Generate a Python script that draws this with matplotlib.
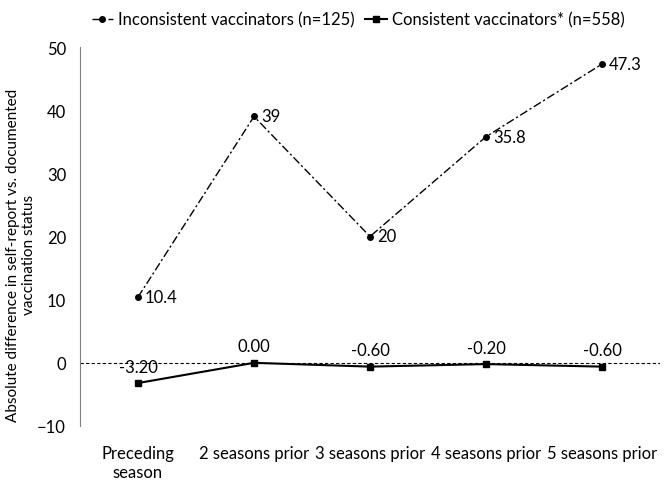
import matplotlib
matplotlib.use("Agg")
import matplotlib.pyplot as plt

categories = ["Preceding\nseason", "2 seasons prior", "3 seasons prior", "4 seasons prior", "5 seasons prior"]
inconsistent = [10.4, 39, 20, 35.8, 47.3]
inconsistent_labels = ["10.4", "39", "20", "35.8", "47.3"]
consistent = [-3.20, 0.00, -0.60, -0.20, -0.60]
consistent_labels = ["-3.20", "0.00", "-0.60", "-0.20", "-0.60"]
yticks = [-10, 0, 10, 20, 30, 40, 50]

plt.rcParams['font.family'] = ['Lato', 'DejaVu Sans']
FS = 12
fig = plt.figure(figsize=(6.67, 4.81), dpi=100)
ax = fig.add_axes([80/667, 1-427/481, 580/667, (427-48)/481])

x = list(range(len(categories)))
l1, = ax.plot(x, inconsistent, color='black', linestyle=(0, (6, 2, 1.5, 2)), linewidth=1, marker='o', markersize=4,
              label='Inconsistent vaccinators (n=125)')
l2, = ax.plot(x, consistent, color='black', linestyle='-', linewidth=1.5, marker='s', markersize=4,
              label='Consistent vaccinators* (n=558)')
ax.axhline(0, color='black', linestyle=(0, (3, 2)), linewidth=0.8, zorder=0)

for xi, v, t in zip(x, inconsistent, inconsistent_labels):
    ax.annotate(t, (xi, v), xytext=(5, 0), textcoords='offset points', ha='left', va='center', fontsize=FS)
for xi, v, t in zip(x, consistent, consistent_labels):
    ax.annotate(t, (xi, v), xytext=(0, 6), textcoords='offset points', ha='center', va='bottom', fontsize=FS)

ax.set_xlim(-0.5, len(categories) - 0.5)
ax.set_ylim(-10, 50)
ax.set_yticks(yticks)
ax.set_xticks(x)
ax.set_xticklabels(categories, fontsize=FS)
ax.tick_params(axis='y', labelsize=FS, length=0, pad=10)
ax.tick_params(axis='x', length=0, pad=14)
for s in ['top', 'right', 'bottom']:
    ax.spines[s].set_visible(False)
ax.spines['left'].set_color('#808080')

fig.text(21/667, 1 - 255/481, "Absolute difference in self-report vs. documented\nvaccination status",
         rotation=90, ha='center', va='center', fontsize=11, multialignment='center')

fig.legend(handles=[l1, l2], loc='upper center', bbox_to_anchor=(358/667, 1.005), ncol=2, frameon=False,
           fontsize=FS, handlelength=1.3, handletextpad=0.3, columnspacing=0.6)

fig.savefig("out.png", dpi=100)
